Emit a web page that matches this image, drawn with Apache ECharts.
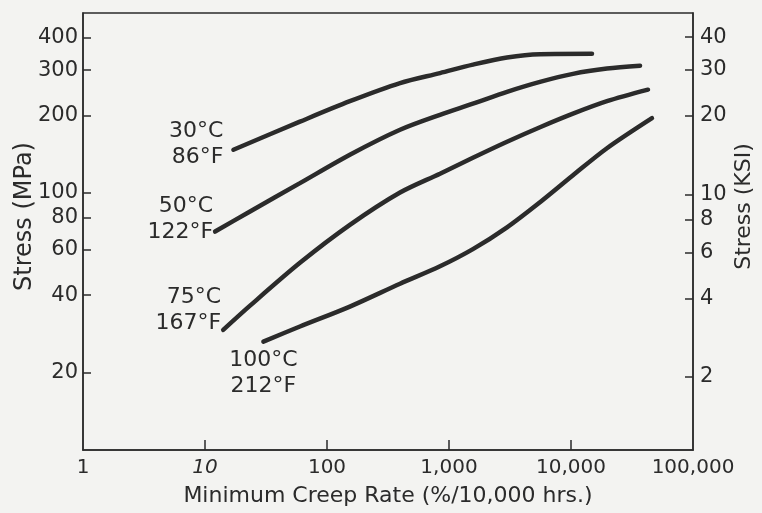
<!DOCTYPE html>
<html>
<head>
<meta charset="utf-8">
<script src="https://cdn.jsdelivr.net/npm/echarts@6/dist/echarts.min.js"></script>
<style>
  html, body { margin: 0; padding: 0; background: #f3f3f1; }
  #chart { width: 762px; height: 513px; }
</style>
</head>
<body>
<div id="chart"></div>
<script>
// Minimum creep rate (%/10,000 hrs) vs stress (MPa), one curve per test temperature
const rateTicks = [1, 10, 100, 1000, 10000, 100000];
const mpaTicks = [20, 40, 60, 80, 100, 200, 300, 400];
const ksiTicks = [2, 4, 6, 8, 10, 20, 30, 40];

const curveNames = ['30°C\n86°F', '50°C\n122°F', '75°C\n167°F', '100°C\n212°F'];

const rate30 = [17.1, 60, 154, 397, 844, 1570, 2990, 5570, 14860];
const mpa30 = [147, 189, 227, 267, 292, 315, 336, 346, 347];

const rate50 = [12.1, 23.4, 60, 154, 397, 844, 1570, 2990, 5570, 10380, 19720, 36800];
const mpa50 = [70.7, 84.6, 109, 140.6, 175.8, 201, 222, 247, 270, 290, 304, 312];

const rate75 = [14.1, 23.4, 60, 154, 397, 844, 1570, 2990, 5570, 10380, 19720, 42760];
const mpa75 = [29.3, 36.4, 53.4, 75, 100.2, 118.6, 136.8, 157.9, 179.8, 203, 227, 251.7];

const rate100 = [30.1, 60, 154, 397, 844, 1570, 2990, 5570, 10380, 19720, 46100];
const mpa100 = [26.4, 30.2, 36.1, 44.3, 51.8, 60.4, 73.4, 91.9, 117, 149, 195];

const ink = '#2b2b2b';
const fontFamily = '"DejaVu Sans", "Liberation Sans", sans-serif';

// label placement for the first point of each curve
const startLabels = [
  { position: 'left', distance: 10, offset: [0, -5] },
  { position: 'left', distance: 2, offset: [0, -12] },
  { position: 'left', distance: 2, offset: [0, -20] },
  { position: 'bottom', distance: 6, offset: [0, 0] }
];

function buildSeries(idx, xs, ys) {
  const data = xs.map((x, i) => {
    const item = { value: [x, ys[i]] };
    if (i === 0) {
      item.label = Object.assign({
        show: true,
        formatter: curveNames[idx],
        color: ink,
        fontSize: 22,
        lineHeight: 26,
        fontFamily: fontFamily
      }, startLabels[idx]);
    }
    return item;
  });
  return {
    type: 'line',
    xAxisIndex: 0,
    yAxisIndex: 0,
    smooth: 0.3,
    symbol: 'circle',
    symbolSize: 0,
    showSymbol: true,
    lineStyle: { color: ink, width: 4.5, cap: 'round' },
    itemStyle: { color: ink },
    label: { show: false },
    silent: true,
    animation: false,
    data: data
  };
}

function withCommas(v) {
  return String(Math.round(v)).replace(/\B(?=(\d{3})+(?!\d))/g, ',');
}

const chart = echarts.init(document.getElementById('chart'), null, { renderer: 'canvas' });

chart.setOption({
  backgroundColor: '#f3f3f1',
  animation: false,
  grid: {
    left: 83, right: 69, top: 13, bottom: 63,
    outerBoundsMode: 'none',
    containLabel: false,
    show: true,
    borderColor: ink,
    borderWidth: 1.5,
    backgroundColor: 'transparent'
  },
  xAxis: {
    type: 'log',
    logBase: 10,
    min: 1,
    max: 100000,
    name: 'Minimum Creep Rate (%/10,000 hrs.)',
    nameLocation: 'middle',
    nameGap: 35,
    nameMoveOverlap: false,
    nameTextStyle: { color: ink, fontSize: 22, fontFamily: fontFamily },
    axisLine: { show: true, lineStyle: { color: ink, width: 1.5 } },
    axisTick: {
      show: true, inside: true, length: 10,
      customValues: [10, 100, 1000, 10000],
      lineStyle: { color: ink, width: 1.5 }
    },
    minorTick: { show: false },
    splitLine: { show: false },
    axisLabel: {
      customValues: rateTicks,
      margin: 8,
      color: ink,
      fontSize: 20,
      fontFamily: fontFamily,
      formatter: function (v) {
        const s = withCommas(v);
        return Math.round(v) === 10 ? '{it|' + s + '}' : s;
      },
      rich: { it: { fontStyle: 'italic', fontSize: 20, color: ink, fontFamily: fontFamily } }
    }
  },
  yAxis: [
    {
      type: 'log',
      logBase: 10,
      min: 10,
      max: 500,
      position: 'left',
      name: 'Stress (MPa)',
      nameLocation: 'middle',
      nameGap: 46,
      nameMoveOverlap: false,
      nameTextStyle: { color: ink, fontSize: 24, fontFamily: fontFamily, padding: [0, 0, 0, 30] },
      axisLine: { show: true, lineStyle: { color: ink, width: 1.5 } },
      axisTick: {
        show: true, inside: true, length: 8,
        customValues: mpaTicks,
        lineStyle: { color: ink, width: 1.5 }
      },
      splitLine: { show: false },
      axisLabel: {
        customValues: mpaTicks,
        margin: 5,
        color: ink,
        fontSize: 21,
        fontFamily: fontFamily
      }
    },
    {
      type: 'log',
      logBase: 10,
      min: 1.05,
      max: 49.5,
      position: 'right',
      name: 'Stress (KSI)',
      nameLocation: 'middle',
      nameGap: 40,
      nameRotate: 90,
      nameMoveOverlap: false,
      nameTextStyle: { color: ink, fontSize: 22, fontFamily: fontFamily, padding: [0, 0, 0, 50] },
      axisLine: { show: true, lineStyle: { color: ink, width: 1.5 } },
      axisTick: {
        show: true, inside: true, length: 8,
        customValues: ksiTicks,
        lineStyle: { color: ink, width: 1.5 }
      },
      splitLine: { show: false },
      axisLabel: {
        customValues: ksiTicks,
        margin: 7,
        color: ink,
        fontSize: 21,
        fontFamily: fontFamily
      }
    }
  ],
  series: [
    buildSeries(0, rate30, mpa30),
    buildSeries(1, rate50, mpa50),
    buildSeries(2, rate75, mpa75),
    buildSeries(3, rate100, mpa100)
  ]
});
</script>
</body>
</html>
